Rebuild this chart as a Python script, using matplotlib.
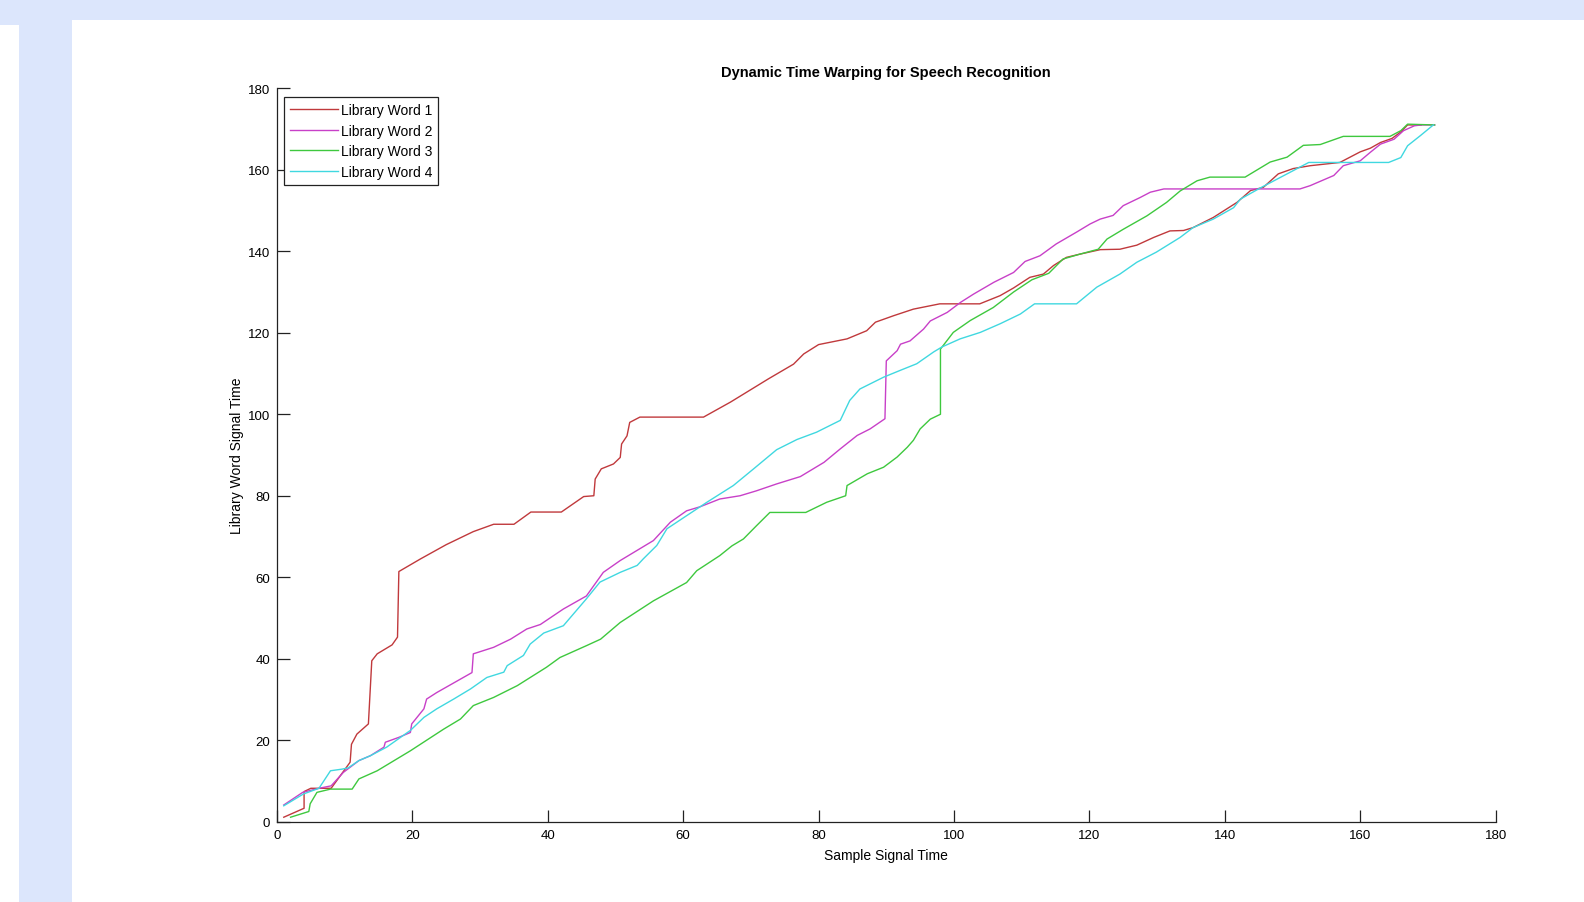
import numpy as np
import matplotlib
matplotlib.use("Agg")
import matplotlib.pyplot as plt
from matplotlib.patches import Rectangle

plt.rcParams['font.family'] = ['Liberation Sans', 'DejaVu Sans']

# warping paths (sample time, library word time)
word1_x = [1, 4, 4, 5, 8, 10.8, 11, 11.8, 13.5, 14, 14.8, 17, 17.8, 18, 21.2, 25, 29, 32, 35,
           37.5, 42, 45.3, 46.8, 47, 47.9, 49.7, 50.7, 50.9, 51.7, 52.1, 53.6, 63, 67, 72.6,
           76.3, 77.8, 80, 84.2, 87.1, 88.4, 91.1, 94, 97.9, 103.8, 106.8, 108.8, 111.2, 113.2,
           114.7, 116.6, 118.6, 121.6, 124.5, 127, 129.5, 131.9, 133.9, 135.3, 138.3, 141.8,
           143.8, 145.7, 147.9, 150.1, 152.6, 157, 160, 161.5, 163, 164.7, 166, 167, 169]
word1_y = [1.1, 3.3, 7.4, 8.2, 8.2, 14.6, 19, 21.5, 24, 39.5, 41.2, 43.4, 45.3, 61.4, 64.5, 68,
           71.2, 73, 73, 76, 76, 79.8, 80, 84.1, 86.6, 87.8, 89.4, 92.7, 94.7, 98, 99.3, 99.3,
           103, 108.7, 112.3, 114.8, 117.1, 118.5, 120.5, 122.6, 124.2, 125.8, 127.1, 127.1,
           129.1, 131, 133.6, 134.4, 136.5, 138.5, 139.3, 140.4, 140.5, 141.5, 143.4, 145,
           145.1, 145.8, 148.3, 152, 154.9, 155.7, 159, 160.3, 161, 161.8, 164.4, 165.3, 166.7,
           167.7, 169.3, 171, 171]

word2_x = [1, 3.8, 6.2, 8, 9.8, 12.1, 13.8, 15.8, 16, 18, 19.7, 19.9, 21.7, 22.1, 23.6, 28.8,
           29, 32, 34.5, 36.9, 38.9, 42.3, 45.7, 48.2, 50.7, 55.6, 58.1, 60.5, 62.5, 65.4, 68.4,
           70.8, 73.8, 77.3, 80.8, 83.2, 85.7, 87.6, 89.8, 90, 91.6, 92.1, 93.5, 95.5, 96.5, 99,
           101, 102.9, 105.9, 108.8, 110.5, 112.7, 115.1, 118.1, 120.1, 121.6, 123.5, 125,
           127.5, 129, 131, 151.1, 152.6, 156.1, 157.5, 160, 161.5, 163, 165, 166.4, 168, 169,
           171]
word2_y = [4.1, 7.2, 8.2, 8.8, 12.1, 15, 16.2, 18.3, 19.5, 20.7, 21.9, 24, 27.7, 30.1, 31.7,
           36.6, 41.2, 42.8, 44.8, 47.3, 48.4, 52.2, 55.4, 61.2, 64.1, 69, 73.5, 76.3, 77.3,
           79.2, 80, 81.2, 82.9, 84.7, 88.2, 91.5, 94.8, 96.4, 98.9, 113.1, 115.6, 117.2, 118,
           120.9, 122.9, 125, 127.5, 129.5, 132.4, 134.8, 137.5, 138.9, 141.8, 144.7, 146.7,
           147.9, 148.8, 151.2, 153.2, 154.5, 155.3, 155.3, 156.1, 158.6, 161, 162.2, 164.3,
           166.3, 167.5, 169.6, 170.8, 171, 171]

word3_x = [2, 4.7, 4.9, 5.9, 7.9, 11.1, 12.1, 14.8, 19.7, 24.6, 27.1, 29, 32, 35.5, 39.8, 41.8,
           45.7, 47.8, 50.7, 55.6, 60.5, 62, 65.4, 67.2, 68.9, 70.8, 72.8, 78.1, 81.2, 84, 84.2,
           87.2, 89.6, 91.6, 93.1, 94, 95, 96.5, 98, 98, 99.9, 102.4, 105.8, 108.8, 111.5, 114,
           116.1, 118.6, 121.3, 122.6, 125, 128.5, 131.4, 133.4, 135.9, 137.8, 143, 146.7,
           149.2, 151.6, 154.1, 157.5, 164.4, 166, 167, 171]
word3_y = [1.1, 2.5, 4.4, 7.2, 8, 8, 10.5, 12.5, 17.4, 22.7, 25.2, 28.5, 30.5, 33.4, 37.9, 40.3,
           43.2, 44.8, 48.9, 54.2, 58.7, 61.6, 65.3, 67.7, 69.4, 72.6, 75.9, 75.9, 78.4, 80,
           82.5, 85.4, 87, 89.5, 91.9, 93.6, 96.4, 98.8, 100, 116, 120.1, 123, 126.2, 130, 133,
           134.6, 138.1, 139.3, 140.5, 143, 145.4, 148.7, 152, 154.8, 157.3, 158.2, 158.2,
           161.9, 163.1, 166, 166.2, 168.2, 168.2, 169.6, 171.2, 171]

word4_x = [1, 3.9, 6.2, 7.9, 9.6, 10.5, 12.1, 13.8, 16.2, 19.7, 21.7, 23.6, 26.1, 28.6, 31,
           33.5, 34, 36.4, 37.4, 39.4, 42.3, 44, 45.7, 47.7, 50.7, 53.2, 54.1, 56.1, 57.6, 60.5,
           63.5, 67.4, 70.4, 73.8, 76.8, 79.7, 83.2, 84.6, 86.1, 89.6, 92.1, 94.5, 97, 98.2,
           100.9, 103.9, 106.8, 109.8, 111.9, 118.1, 121.1, 124.5, 127, 129.9, 133.4, 135.3,
           138.3, 141.3, 142.3, 145.2, 149.2, 152.4, 164.2, 166, 167, 168.9, 170.8]
word4_y = [3.9, 6.8, 8.2, 12.5, 12.9, 13.2, 15, 16.2, 18.3, 22.4, 25.6, 27.7, 30.1, 32.6, 35.4,
           36.7, 38.3, 40.8, 43.6, 46.3, 48.1, 51.4, 54.7, 58.8, 61.2, 62.9, 64.5, 67.8, 71.9,
           75.1, 78.4, 82.5, 86.6, 91.3, 93.8, 95.6, 98.5, 103.4, 106.2, 109.1, 110.8, 112.4,
           115.3, 116.5, 118.5, 120.1, 122.2, 124.6, 127.1, 127.1, 131.2, 134.4, 137.3, 139.8,
           143.4, 145.8, 147.9, 150.7, 152.8, 155.5, 159, 161.8, 161.8, 163, 165.9, 168.4, 171]

labels = ['Library Word 1', 'Library Word 2', 'Library Word 3', 'Library Word 4']
colors = ['#c0393c', '#c840c8', '#3ec83e', '#40d8e0']

W, H = 1584, 903
fig = plt.figure(figsize=(W / 100, H / 100), dpi=100, facecolor='white')

# light blue frame around the window
blue = '#dce6fc'
for (x0, y0, x1, y1) in [(0, 0, W, 21), (0, 0, 72, 26), (19, 0, 72, H)]:
    fig.patches.append(Rectangle((x0 / W, 1 - y1 / H), (x1 - x0) / W, (y1 - y0) / H,
                                 transform=fig.transFigure, facecolor=blue,
                                 edgecolor='none', zorder=-1))

ax = fig.add_axes([277 / W, 1 - 822.7 / H, (1495.6 - 277) / W, (822.7 - 89.3) / H])

paths = [(word1_x, word1_y), (word2_x, word2_y), (word3_x, word3_y), (word4_x, word4_y)]
for (px, py), lab, c in zip(paths, labels, colors):
    ax.plot(px, py, color=c, lw=1.0, label=lab)

ax.set_xlim(0, 180)
ax.set_ylim(0, 180)
ax.set_xticks(np.arange(0, 181, 20))
ax.set_yticks(np.arange(0, 181, 20))
ax.spines['top'].set_visible(False)
ax.spines['right'].set_visible(False)
for s in ['left', 'bottom']:
    ax.spines[s].set_color('#222222')
    ax.spines[s].set_linewidth(0.9)
ax.tick_params(direction='in', length=9, width=0.9, color='#222222',
               labelsize=9.5, pad=5)

ax.set_title('Dynamic Time Warping for Speech Recognition', fontsize=10.5,
             fontweight='bold', pad=9)
ax.set_xlabel('Sample Signal Time', fontsize=10, labelpad=5)
ax.set_ylabel('Library Word Signal Time', fontsize=10, labelpad=3)

leg = ax.legend(loc='upper left', bbox_to_anchor=(7 / 1218.6, 1 - 9 / 733.4),
                borderaxespad=0, fontsize=10, fancybox=False, framealpha=1,
                edgecolor='#222222', handlelength=3.5, handletextpad=0.15,
                labelspacing=0.47, borderpad=0.42)
leg.get_frame().set_linewidth(0.9)

fig.savefig('out.png', dpi=100, facecolor='white')
